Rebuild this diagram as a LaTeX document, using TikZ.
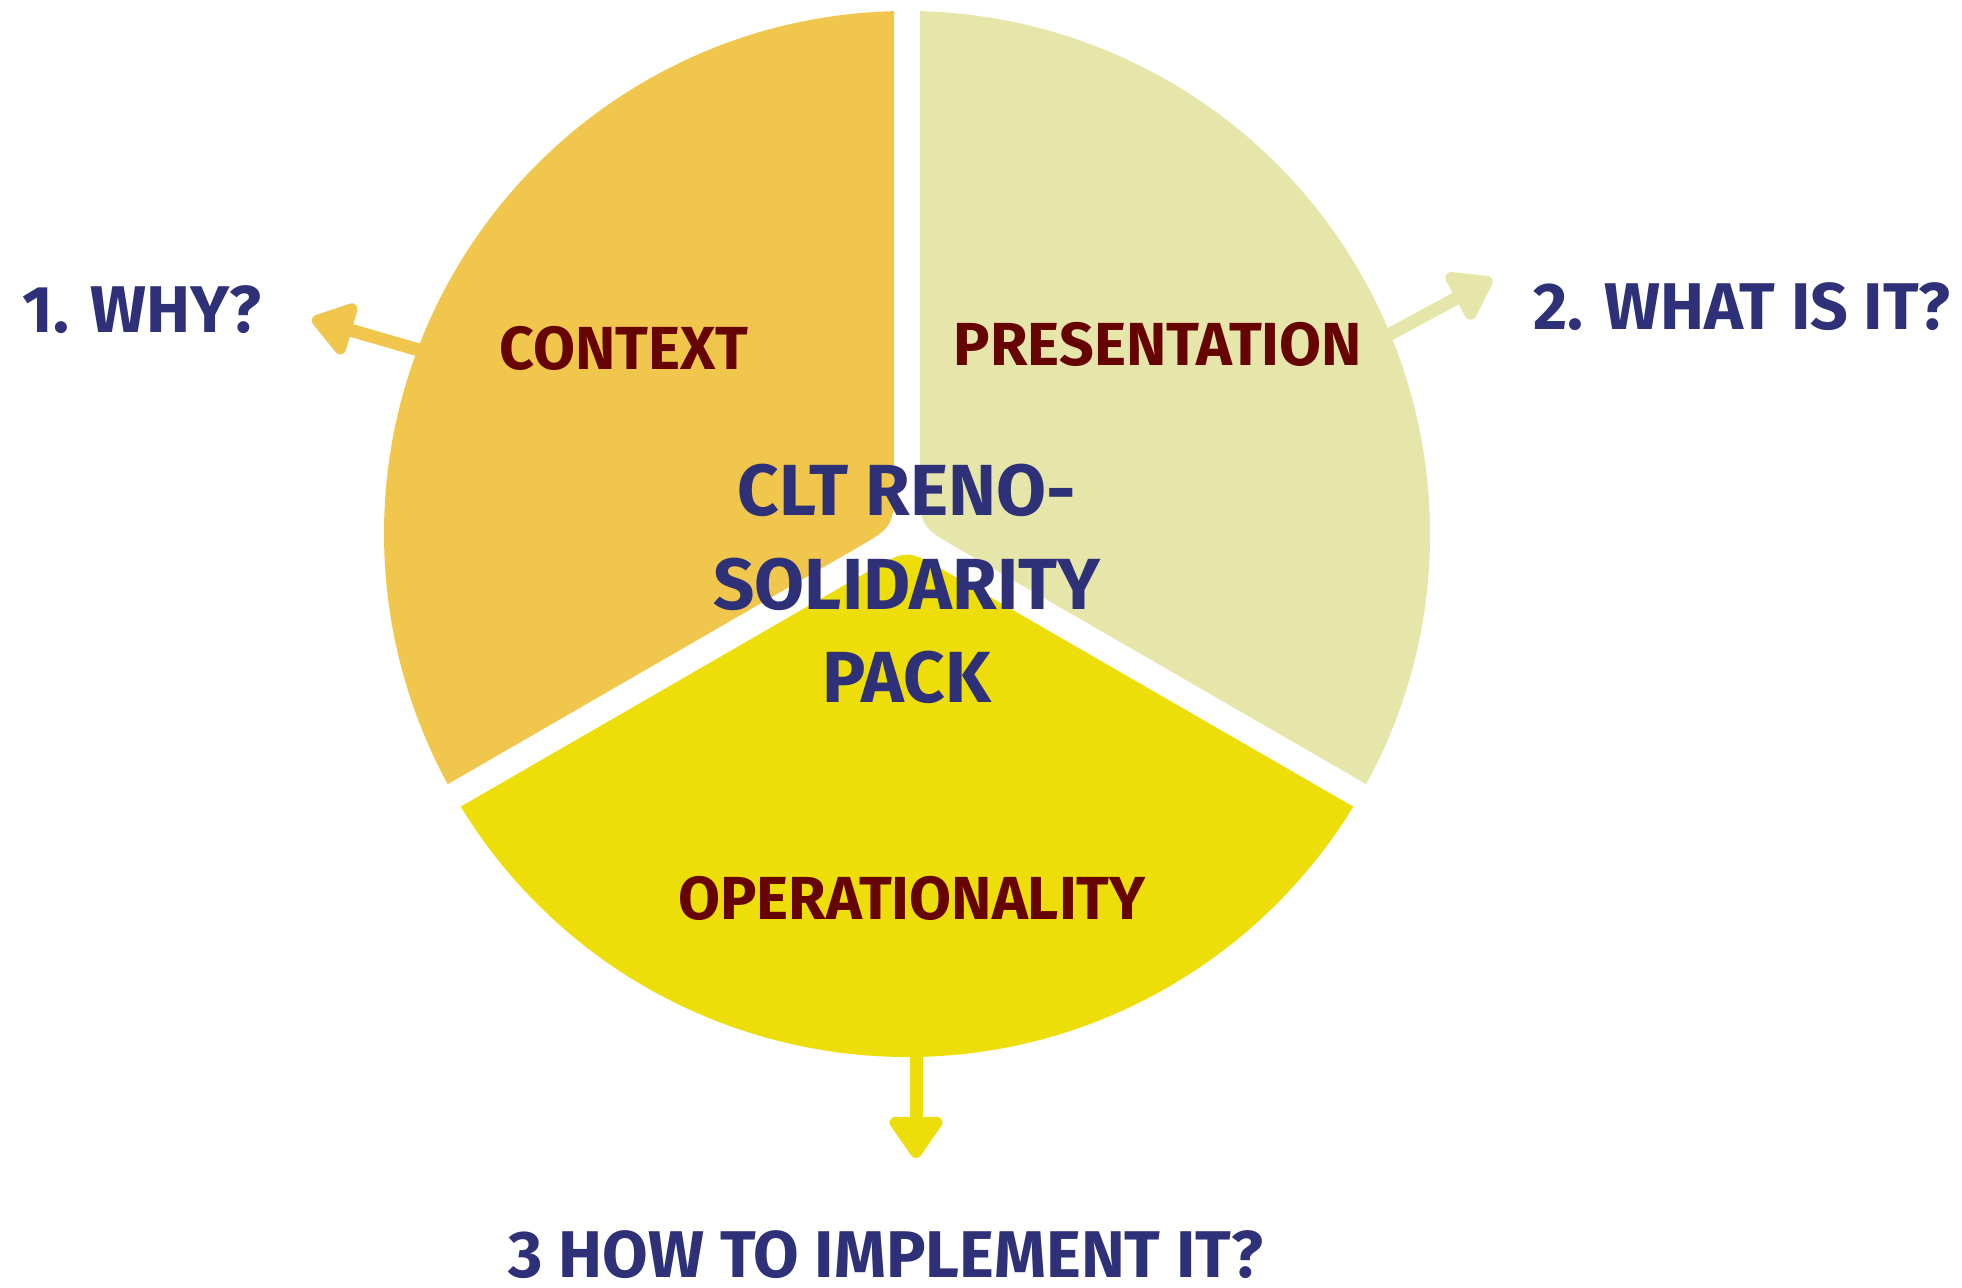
\documentclass[tikz,border=0pt]{standalone}
\usepackage{fontspec}
\setmainfont{Fira Sans}
\usepackage{tikz}
\usetikzlibrary{arrows.meta, calc}
\usepackage{xcolor}
\definecolor{ctxcolor}{RGB}{240,199,76}
\definecolor{prscolor}{RGB}{230,230,170}
\definecolor{opscolor}{RGB}{237,222,10}
\definecolor{navytext}{RGB}{46,48,120}
\definecolor{redtext}{RGB}{102,4,4}
\tikzset{
    sectorlabel/.style={text=redtext, font=\fontsize{17.3}{20}\selectfont\bfseries, inner sep=0pt},
    question/.style={text=navytext, font=\fontsize{18.8}{22}\selectfont\bfseries, inner sep=0pt},
    title/.style={text=navytext, font=\fontsize{20.6}{26.7}\selectfont\bfseries, align=center, inner sep=0pt},
    pointer/.style={line width=1.3mm, -{Triangle[round, length=4.6mm, width=6.0mm]}}
}

\begin{document}
\begin{tikzpicture}
    \useasboundingbox (0,0) rectangle (19.62,12.88);

    % centre of the pie and the inner corners of the three sectors
    \coordinate (c) at (9.07,7.54);
    \coordinate (kctx) at ($(c)+(150:0.15)$);
    \coordinate (kprs) at ($(c)+(30:0.15)$);
    \coordinate (kops) at ($(c)+(270:0.15)$);

    % pointers sit under the sectors
    \coordinate (whystart) at (4.36,9.33);
    \coordinate (whyend) at (3.12,9.69);
    \coordinate (whatstart) at (13.70,9.43);
    \coordinate (whatend) at (14.92,10.09);
    \coordinate (howstart) at (9.16,2.60);
    \coordinate (howend) at (9.16,1.30);
    \draw[pointer, ctxcolor] (whystart) -- (whyend);
    \draw[pointer, prscolor] (whatstart) -- (whatend);
    \draw[pointer, opscolor] (howstart) -- (howend);

    % sectors
    \fill[ctxcolor] ($(c)+(208.58:5.23)$) -- ($(kctx)!0.45cm!($(c)+(208.58:5.23)$)$)
        .. controls (kctx) .. ($(kctx)!0.45cm!($(c)+(91.42:5.23)$)$)
        -- ($(c)+(91.42:5.23)$) arc[start angle=91.42, end angle=208.58, radius=5.23] -- cycle;
    \fill[prscolor] ($(c)+(88.58:5.23)$) -- ($(kprs)!0.45cm!($(c)+(88.58:5.23)$)$)
        .. controls (kprs) .. ($(kprs)!0.45cm!($(c)+(-28.58:5.23)$)$)
        -- ($(c)+(-28.58:5.23)$) arc[start angle=-28.58, end angle=88.58, radius=5.23] -- cycle;
    \fill[opscolor] ($(c)+(328.58:5.23)$) -- ($(kops)!0.45cm!($(c)+(328.58:5.23)$)$)
        .. controls (kops) .. ($(kops)!0.45cm!($(c)+(211.42:5.23)$)$)
        -- ($(c)+(211.42:5.23)$) arc[start angle=211.42, end angle=328.58, radius=5.23] -- cycle;

    \node[sectorlabel] (context) at (6.24,9.40) {CONTEXT};
    \node[sectorlabel] (presentation) at (11.58,9.44) {PRESENTATION};
    \node[sectorlabel] (operationality) at (9.12,3.90) {OPERATIONALITY};

    \node[title] (pack) at (9.07,7.04) {CLT RENO-\\SOLIDARITY\\PACK};

    \node[question] (why) at (1.42,9.78) {1. WHY?};
    \node[question] (what) at (17.42,9.81) {2. WHAT IS IT?};
    \node[question] (how) at (8.86,0.33) {3 HOW TO IMPLEMENT IT?};

\end{tikzpicture}
\end{document}
